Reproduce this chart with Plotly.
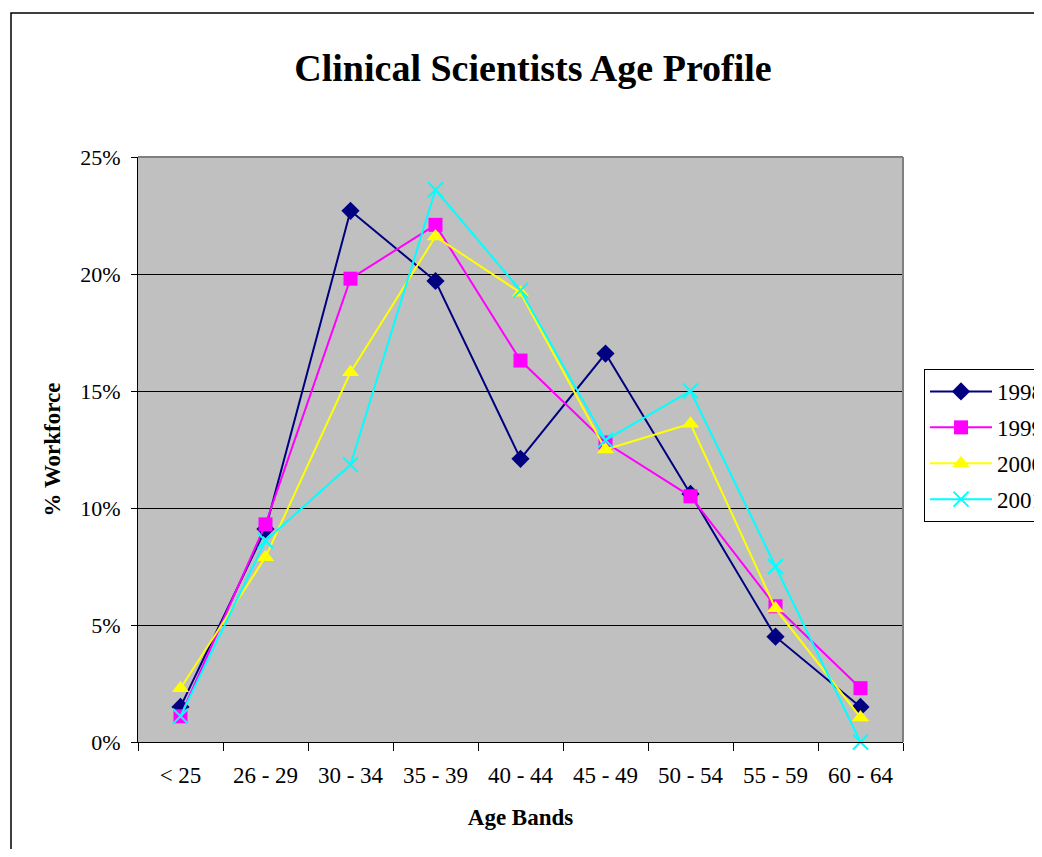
import plotly.graph_objects as go

age_bands = ["< 25", "26 - 29", "30 - 34", "35 - 39", "40 - 44", "45 - 49", "50 - 54", "55 - 59", "60 - 64"]
y1998 = [1.5, 9.1, 22.7, 19.7, 12.1, 16.6, 10.6, 4.5, 1.5]
y1999 = [1.1, 9.3, 19.8, 22.1, 16.3, 12.8, 10.5, 5.8, 2.3]
y2000 = [2.3, 7.9, 15.8, 21.6, 19.2, 12.5, 13.6, 5.7, 1.05]
y2001 = [1.1, 8.6, 11.85, 23.6, 19.3, 12.9, 15.0, 7.5, 0.0]
series_names = ["1998", "1999", "2000", "2001"]
y_ticks = [0, 5, 10, 15, 20, 25]
y_tick_labels = ["0%", "5%", "10%", "15%", "20%", "25%"]

colors = ["#000080", "#FF00FF", "#FFFF00", "#00FFFF"]
symbols = ["diamond", "square", "triangle-up", "x-thin"]
sizes = [14, 14, 15, 15]

FONT = "Liberation Serif, Times New Roman, serif"
OFF = 8  # page body margin
W, H = 1042 - OFF, 857 - 2 * OFF
L, T = 138 - OFF, 157 - OFF
R = W - (903 - OFF)
B = H - (742 - OFF)
pw = W - L - R
ph = H - T - B

fig = go.Figure()
for i, (name, vals) in enumerate(zip(series_names, [y1998, y1999, y2000, y2001])):
    marker = dict(symbol=symbols[i], size=sizes[i], color=colors[i],
                  line=dict(width=2 if symbols[i] == "x-thin" else 0, color=colors[i]))
    fig.add_trace(go.Scatter(
        x=age_bands, y=vals, name=name, mode="lines+markers",
        line=dict(color=colors[i], width=2),
        marker=marker, legendgroup=name, cliponaxis=False,
    ))

fig.update_layout(
    width=W, height=H,
    margin=dict(l=L, r=R, t=T, b=B, autoexpand=False),
    paper_bgcolor="white",
    plot_bgcolor="#C0C0C0",
    font=dict(family=FONT, color="black", size=22),
    title=dict(text="<b>Clinical Scientists Age Profile</b>",
               font=dict(family=FONT, size=38, color="black"),
               x=(533 - OFF) / W, xanchor="center", y=1 - (68 - OFF) / H, yanchor="middle"),
    showlegend=True,
    legend=dict(x=(924 - OFF - L) / pw, xanchor="left", y=(742 - 369) / ph, yanchor="top",
                bgcolor="white", bordercolor="black", borderwidth=1,
                font=dict(family=FONT, size=23), tracegroupgap=3,
                itemwidth=62),
    xaxis=dict(
        type="category", tickson="boundaries", ticks="outside", ticklen=8,
        tickcolor="black", tickwidth=1, showline=True, linecolor="black", linewidth=1,
        showgrid=False, zeroline=False, ticklabelstandoff=12,
        tickfont=dict(size=23),
        title=dict(text="<b>Age Bands</b>", font=dict(family=FONT, size=23), standoff=22),
        range=[-0.5, 8.5],
    ),
    yaxis=dict(
        range=[0, 25], tickvals=y_ticks, ticktext=y_tick_labels,
        ticks="outside", ticklen=6, tickcolor="black", showline=True, linecolor="black",
        linewidth=1, showgrid=True, gridcolor="black", gridwidth=1, zeroline=False,
        ticklabelstandoff=6, tickfont=dict(size=22),
        title=dict(text="<b>% Workforce</b>", font=dict(family=FONT, size=23), standoff=13),
    ),
    shapes=[
        dict(type="line", xref="paper", yref="paper", x0=0, x1=1, y0=1, y1=1,
             line=dict(color="#808080", width=2)),
        dict(type="line", xref="paper", yref="paper", x0=1, x1=1, y0=0, y1=1,
             line=dict(color="#808080", width=2)),
        dict(type="rect", xref="paper", yref="paper",
             x0=(11 - OFF - L) / pw, x1=1.5, y0=-0.5, y1=1 + (T - (13 - OFF)) / ph,
             line=dict(color="black", width=1.5), fillcolor="rgba(0,0,0,0)"),
    ],
)

fig.write_html("out.html")
